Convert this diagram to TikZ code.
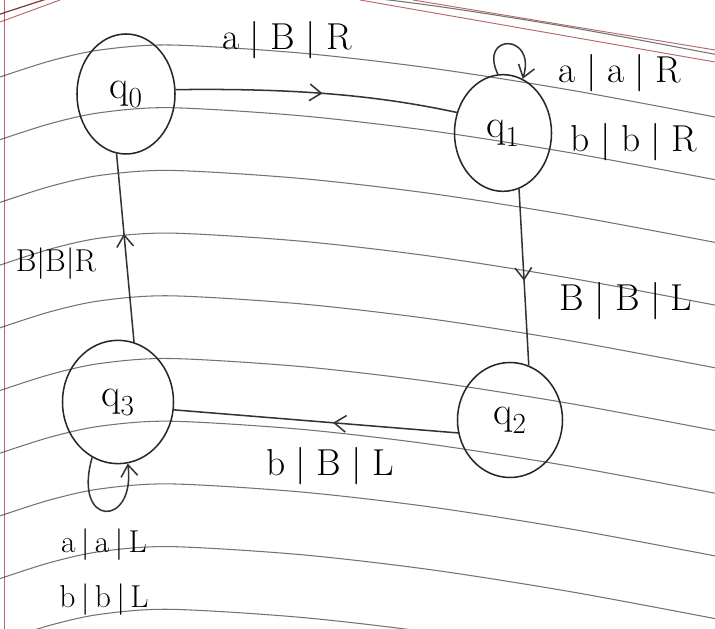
\documentclass[tikz,border=0pt]{standalone}
\usetikzlibrary{arrows.meta,decorations.markings,shapes.geometric}
\tikzset{
  state/.style={ellipse, draw=black!85, line width=1.3pt, inner sep=0pt, font=\fontsize{34}{36}\selectfont},
  edge/.style={draw=black!80, line width=1.3pt},
  tip/.style={-{Straight Barb[length=3.5mm,width=5mm,line width=1.3pt]}},
  midarrow/.style={postaction={decorate}, decoration={markings, mark=at position #1 with {\arrow{Straight Barb[length=3.5mm,width=5mm,line width=1.3pt]}}}},
  lbl/.style={font=\fontsize{32}{34}\selectfont, inner sep=1pt},
  lblsmall/.style={font=\fontsize{27}{29}\selectfont, inner sep=1pt},
  ruling/.style={black!55, line width=0.9pt},
  margin/.style={red!55!black, line width=0.8pt, opacity=0.6}
}
\begin{document}
\begin{tikzpicture}[x=0.03cm,y=-0.03cm]
\useasboundingbox (0,0) rectangle (715,629);
\clip (0,0) rectangle (715,629);
\fill[white] (0,0) rectangle (715,629);
% paper rulings
\foreach \k in {-1,...,9} {
  \pgfmathsetmacro\yy{45+62.7*\k}
  \draw[ruling] plot[smooth] coordinates {(0,\yy+32) (50,\yy+16) (100,\yy+5) (170,\yy) (300,\yy+8) (430,\yy+23) (570,\yy+45) (715,\yy+72)};
}
\draw[margin] (4,0) -- (4,629);
\draw[margin] (413,0) -- (715,50);
\draw[margin] (360,0) -- (715,62);
\draw[margin] (0,14) -- (43,0);
\draw[margin] (0,22) -- (60,0);
% states
\node[state, minimum width=2.94cm, minimum height=3.6cm] (q0) at (126,94) {q$_0$};
\node[state, minimum width=2.91cm, minimum height=3.5cm] (q1) at (503,133) {q$_1$};
\node[state, minimum width=3.15cm, minimum height=3.45cm] (q2) at (510,420) {q$_2$};
\node[state, minimum width=3.33cm, minimum height=3.7cm] (q3) at (118,402) {q$_3$};
% transitions
\draw[edge, midarrow=0.52] (q0.5) .. controls (300,88) and (380,96) .. (q1.156);
\draw[edge, midarrow=0.52] (q1.-74) -- (q2.71);
\draw[edge, midarrow=0.44] (q2.194) -- (q3.-8);
\draw[edge, midarrow=0.575] (q3.75) -- (q0.-99);
\draw[edge, tip] (q1.95) .. controls (478,33) and (537,33) .. (q1.70);
\draw[edge, tip] (q3.-115) .. controls (72,528) and (136,528) .. (q3.-81);
% labels
\node[lbl] (l01) at (287,40) {a\;|\;B\;|\;R};
\node[lbl] (l11a) at (620,73) {a\;|\;a\;|\;R};
\node[lbl] (l11b) at (634,142) {b\;|\;b\;|\;R};
\node[lbl] (l12) at (626,301) {B\;|\;B\;|\;L};
\node[lbl] (l23) at (330,466) {b\;|\;B\;|\;L};
\node[lblsmall] (l30) at (56,264) {B|B|R};
\node[lblsmall] (l33a) at (104,545) {a\,|\,a\,|\,L};
\node[lblsmall] (l33b) at (104,600) {b\,|\,b\,|\,L};
\end{tikzpicture}
\end{document}
